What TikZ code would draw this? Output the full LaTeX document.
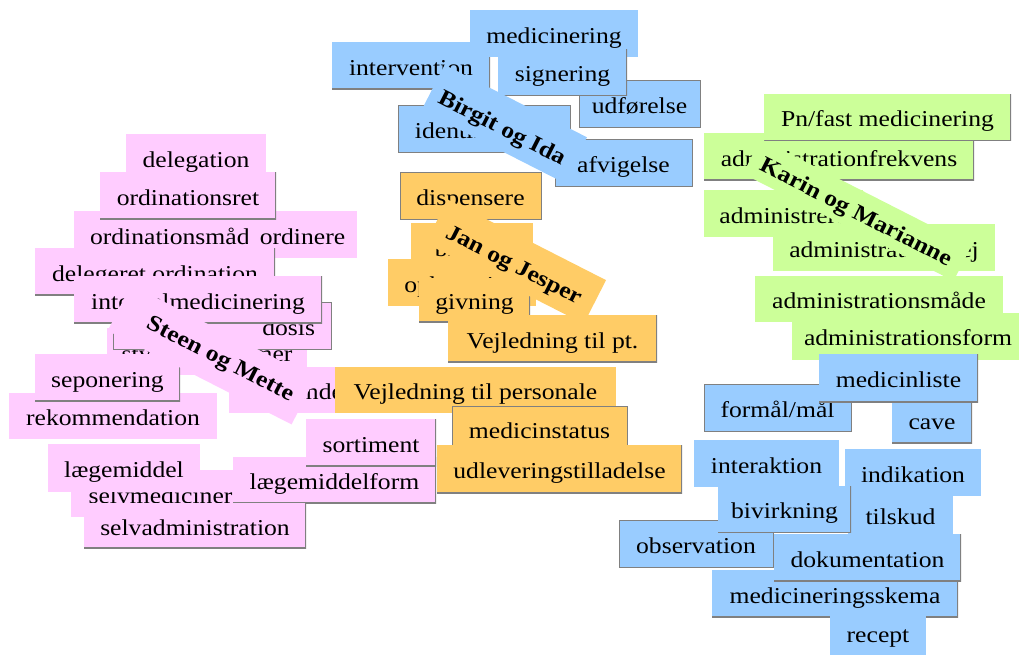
\documentclass[tikz,border=0pt]{standalone}
\usepackage{fontspec}
\setmainfont{Liberation Serif}[FakeStretch=1.13]
\definecolor{pinkc}{HTML}{FFCCFF}
\definecolor{orangec}{HTML}{FFCC66}
\definecolor{bluec}{HTML}{99CCFF}
\definecolor{greenc}{HTML}{CCFF99}
\begin{document}
\begin{tikzpicture}[x=1pt,y=-1pt,font=\fontsize{22.7}{27}\selectfont,
 tag/.style={minimum height=47pt,inner xsep=0pt,inner ysep=0pt,text height=21pt,text depth=2pt,align=center},
 pk/.style={tag,fill=pinkc}, og/.style={tag,fill=orangec},
 bl/.style={tag,fill=bluec}, gr/.style={tag,fill=greenc},
 sh/.style={path picture={\draw[gray,line width=2pt] (path picture bounding box.north east) -- (path picture bounding box.south east) -- (path picture bounding box.south west);}},
 rim/.style={draw=gray,line width=0.8pt},
 grp/.style={font=\fontsize{22.7}{27}\selectfont\bfseries,anchor=base,rotate=-27,inner xsep=12pt,inner ysep=2pt}]
\useasboundingbox (0,0) rectangle (1019,654);
% Steen og Mette
\node[pk,minimum width=140] (deleg) at (196,157.5) {delegation};
\node[pk,minimum width=203] (ordmaade) at (175.5,234.5) {ordinationsmåde};
\node[pk,minimum width=109] (ordinere) at (302.5,234.5) {ordinere};
\node[pk,sh,minimum width=176] (ordret) at (188,195.5) {ordinationsret};
\node[pk,sh,minimum width=240] (delord) at (155,271.5) {delegeret ordination};
\node[pk,minimum width=200] (former) at (207,351.5) {styrke og former};
\node[pk,minimum width=208,minimum height=46] (rekom) at (113,416) {rekommendation};
\node[pk,sh,minimum width=145] (sepon) at (107.5,377.5) {seponering};
\node[pk,minimum width=171,minimum height=46] (anvend) at (314.5,390) {anvendelse};
\node[pk,rim,inner xsep=16pt,text width=186pt,align=right] (dosis) at (222,325.5) {dosis};
\node[pk,sh,minimum width=248] (intmed) at (198,299.5) {internalmedicinering};
\node[grp,fill=pinkc,text height=30pt,text depth=17.5pt] (steen) at (208.5,360.2) {\hspace*{20pt}Steen og Mette};
\node[pk,minimum width=179] (selvmed) at (160.5,493.5) {selvmediciner};
\node[pk,minimum width=152,minimum height=48] (laegem) at (124,468) {lægemiddel};
\node[pk,sh,minimum width=203,minimum height=46] (laegform) at (334.5,480) {lægemiddelform};
\node[pk,sh,minimum width=130] (sortiment) at (371,442.5) {sortiment};
\node[pk,sh,minimum width=222,minimum height=45] (selvadm) at (195,525.5) {selvadministration};
% Jan og Jesper
\node[og,rim,minimum width=141] (disp) at (470.5,195.5) {dispensere};
\node[og,minimum width=122] (bistand) at (472,246.5) {bistand};
\node[og,minimum width=148] (opbev) at (462,282.5) {opbevaring};
\node[og,sh,minimum width=111,minimum height=44] (givning) at (474.5,300) {givning};
\node[grp,fill=orangec,text height=33pt,text depth=12pt,inner xsep=14pt] (jan) at (511,271) {Jan og Jesper};
\node[og,sh,minimum width=209] (vejlpt) at (552.5,338.5) {Vejledning til pt.};
\node[og,minimum width=281,minimum height=46] (vejlpers) at (475.5,390) {Vejledning til personale};
\node[og,rim,minimum width=175,minimum height=46] (medstatus) at (539.5,429) {medicinstatus};
\node[og,sh,minimum width=245,minimum height=48] (udlev) at (559.5,469) {udleveringstilladelse};
% Birgit og Ida
\node[bl,sh,minimum width=158] (interv) at (411,65.5) {intervention};
\node[bl,minimum width=168] (medicinering) at (554,33.5) {medicinering};
\node[bl,rim,minimum width=121] (udfoer) at (639.5,104) {udførelse};
\node[bl,sh,minimum width=129] (signering) at (562.5,72) {signering};
\node[bl,rim,minimum width=172] (ident) at (484,128.5) {identifikation};
\node[bl,rim,minimum width=137] (afvig) at (623.5,162.5) {afvigelse};
\node[grp,fill=bluec,text height=35pt,text depth=12pt,inner xsep=10pt] (birgit) at (499,134) {Birgit og Ida};
% Karin og Marianne
\node[gr,sh,minimum width=270] (admfrek) at (839,156.5) {administrationfrekvens};
\node[gr,sh,minimum width=247] (pnfast) at (887.5,117) {Pn/fast medicinering};
\node[gr,minimum width=159] (admre) at (783.5,213.5) {administrere};
\node[gr,minimum width=222] (admvej) at (884,247.5) {administrationsvej};
\node[grp,fill=greenc,text height=26.5pt,text depth=8.5pt] (karin) at (853,218) {Karin og Marianne};
\node[gr,minimum width=248,minimum height=46] (admmaade) at (879,298.5) {administrationsmåde};
\node[gr,minimum width=232] (admform) at (908,336) {administrationsform};
% nederst
\node[bl,sh,minimum width=80] (cave) at (932,419.5) {cave};
\node[bl,rim,minimum width=147] (formaal) at (777.5,407.5) {formål/mål};
\node[bl,sh,minimum width=159,minimum height=48] (medliste) at (898.5,378) {medicinliste};
\node[bl,minimum width=145] (interakt) at (766.5,463.5) {interaktion};
\node[bl,minimum width=136] (indik) at (913,472.5) {indikation};
\node[bl,minimum width=105] (tilskud) at (900.5,514.5) {tilskud};
\node[bl,sh,minimum width=246] (medskema) at (835,593.5) {medicineringsskema};
\node[bl,rim,minimum width=154] (observ) at (696,543.5) {observation};
\node[bl,sh,minimum width=133] (bivirk) at (784.5,509) {bivirkning};
\node[bl,sh,minimum width=187] (dokument) at (867.5,557.5) {dokumentation};
\node[bl,minimum width=96] (recept) at (878,632.5) {recept};
\end{tikzpicture}
\end{document}
